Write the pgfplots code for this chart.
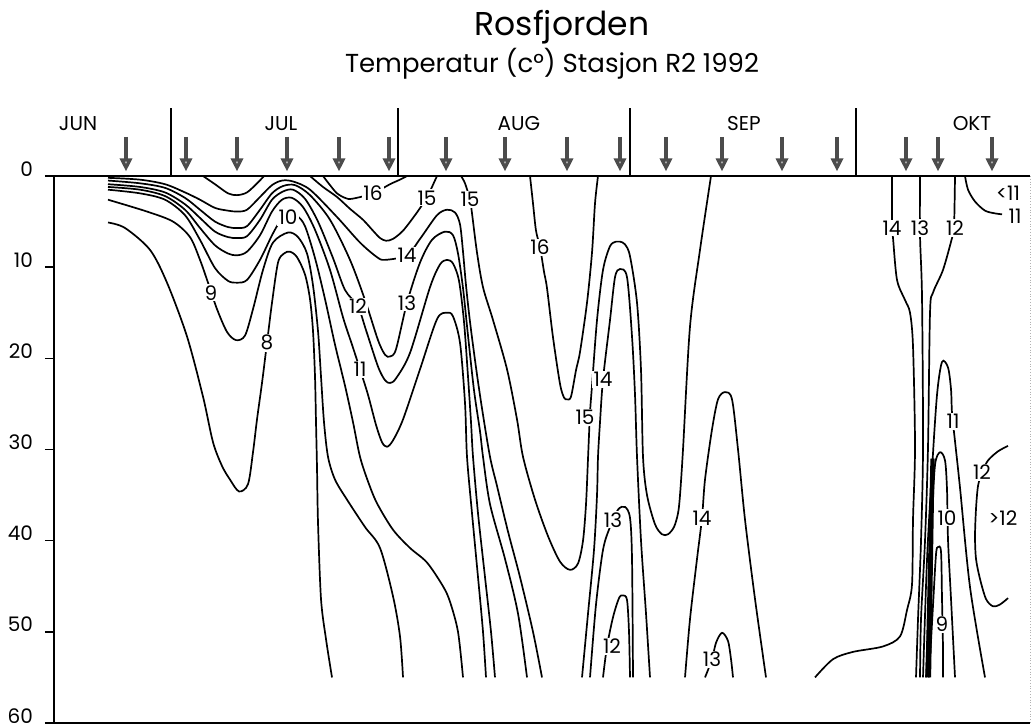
\documentclass[border=0pt]{standalone}
\usepackage{fontspec}
\setmainfont{Poppins}
\usepackage{pgfplots}
\pgfplotsset{compat=1.18}
\usetikzlibrary{arrows.meta}
\tikzset{
  cl/.style={black, line width=0.85pt, mark=none, smooth, tension=0.5},
  lab/.style={fill=white, inner sep=0.6pt, font=\fontsize{10}{12}\selectfont},
}
\begin{document}
\begin{tikzpicture}[x=1pt,y=1pt]
\useasboundingbox (-27,-2) rectangle (488.5,361.5);
\begin{axis}[
  at={(0,0)}, anchor=south west,
  scale only axis, width=488pt, height=273.5pt,
  xmin=54, xmax=1030, ymin=0, ymax=60, y dir=reverse,
  axis line style={draw=none},
  xtick=\empty, ytick={0,10,...,60}, ytick pos=left,
  tick align=outside, major tick length=4.5pt,
  tick style={black, line width=0.8pt},
  yticklabel style={font=\fontsize{10}{12}\selectfont, anchor=base east, xshift=-2.5pt},
  /pgf/number format/assume math mode=true,
  clip=false,
]
% frame
\draw[line width=1pt] (axis cs:54,0) -- (axis cs:1030,0);
\draw[line width=1pt] (axis cs:54,0) -- (axis cs:54,60);
\draw[line width=1.1pt] (axis cs:54,60) -- (axis cs:1030,60);
\draw[line width=0.4pt, gray!60, densely dotted] (axis cs:1030,0) -- (axis cs:1030,60);
% month separators
\addplot[black, line width=0.8pt, mark=none] coordinates {(171,-7.45) (171,0)};
\addplot[black, line width=0.8pt, mark=none] coordinates {(398,-7.45) (398,0)};
\addplot[black, line width=0.8pt, mark=none] coordinates {(630,-7.45) (630,0)};
\addplot[black, line width=0.8pt, mark=none] coordinates {(856,-7.45) (856,0)};
% sampling arrows
\addplot[draw=black!70, line width=1.6pt, mark=none,
  -{Triangle[width=6pt,length=6.5pt,fill=gray!45]},
  quiver={u=0, v=3.8}] coordinates {
  (126,-4.3) (186,-4.3) (237,-4.3) (287,-4.3) (339,-4.3) (389,-4.3)
  (446,-4.3) (505,-4.3) (567,-4.3) (620,-4.3) (666,-4.3) (722,-4.3)
  (782,-4.3) (837,-4.3) (906,-4.3) (938,-4.3) (992,-4.3)};
% contours: 8
\addplot[cl] coordinates {(108,5.1) (125,5.7) (150,8.1) (167,11.7) (187,17.6) (203,24.2) (213,29.2) (222,31.8) (230,33.3) (239,34.6) (248,33.8) (253,30.3) (257,26.7) (262,22.7) (267,18.3) (272,13.9) (278,9.5) (284,8.5) (290,8.3) (297,8.9) (305,10.8) (310,13.5) (313,17) (315,22) (316,27) (317,32) (318,38) (321,46.4) (326,50.8) (332,55)};
% 9
\addplot[cl] coordinates {(108,2.6) (147,3.9) (173,5.0) (190,6.7) (200,9.2) (208,11.7) (217,14.6) (227,17.1) (236,18.0) (245,17.5) (253,14.6) (263,10.3) (273,7.3) (288,6.2) (298,6.7) (307,8.5) (313,12) (318,17) (321,22) (324,27) (328,30.8) (335,33.3) (347,35.5) (365,38.5) (380,40.8) (393,46.1) (400,50.5) (403,55)};
% 10
\addplot[cl] coordinates {(108,1.5) (140,1.9) (165,2.6) (185,4.3) (200,7.0) (215,10.1) (228,11.5) (237,11.7) (247,11.4) (260,9.2) (272,6.5) (280,5.0) (288,4.4) (297,4.4) (305,5.5) (315,9) (325,13.5) (335,18.5) (345,23) (353,27) (360,30.8) (368,33.5) (377,35.9) (393,38.8) (410,40.8) (427,42.4) (443,45) (450,46.7) (458,50) (463,55)};
% 11
\addplot[cl] coordinates {(108,1.2) (140,1.5) (165,2.2) (185,3.7) (200,5.7) (215,7.6) (228,8.5) (237,8.7) (247,8.3) (260,6.5) (272,3.9) (282,2.6) (292,2.4) (303,3.4) (315,5.9) (330,10.3) (343,15.5) (352,18.5) (360,21.2) (368,24) (376,27.3) (382,29.2) (387,29.7) (393,29) (403,26.7) (420,21.2) (437,15.7) (447,15.0) (453,15.4) (460,18.3) (465,24.9) (467,30.8) (472,37) (478,44) (483,50) (486,55)};
% 12
\addplot[cl] coordinates {(108,0.9) (140,1.2) (165,1.8) (185,3.1) (200,4.6) (215,6.1) (228,6.7) (237,6.8) (247,6.6) (260,4.8) (272,2.6) (283,1.7) (293,1.5) (305,2.5) (318,5.0) (333,9.0) (345,12.5) (358,14.3) (366,16.9) (378,20.9) (385,22.4) (390,22.7) (396,22.2) (410,19.4) (430,12.2) (440,9.7) (447,9.2) (453,9.6) (459,11.5) (464,16) (468,22) (471,27) (473,30.8) (478,37) (485,44) (491,50) (495,55)};
% 13
\addplot[cl] coordinates {(108,0.5) (140,0.8) (165,1.3) (185,2.4) (200,3.7) (215,5.0) (228,5.6) (237,5.7) (247,5.5) (260,3.7) (272,1.9) (283,1.1) (295,1.0) (310,2.1) (330,4.8) (350,9.2) (365,13.6) (378,18.0) (385,19.6) (390,19.8) (396,19) (407,13.9) (420,9.5) (432,7.0) (445,6.1) (453,6.5) (458,8.5) (463,12.3) (468,17.5) (474,23.5) (480,28) (483,30.8) (490,36) (505,42) (518,48) (527,55)};
% 14
\addplot[cl] coordinates {(108,0.2) (140,0.4) (165,0.9) (185,1.8) (200,2.6) (215,3.5) (228,3.8) (237,3.9) (247,3.7) (260,2.3) (272,1.0) (282,0.5) (293,0.6) (310,1.5) (337,4.5) (360,7.3) (377,8.9) (385,9.2) (407,8.7) (420,6.9) (437,4.3) (447,3.7) (455,4.0) (460,5.3) (463,8.3) (466,12) (470,16) (476,21) (482,25.5) (490,30.8) (497,34) (508,39) (520,44) (533,50) (542,55)};
% 15 (V at early July)
\addplot[cl] coordinates {(203,0) (215,0.9) (228,1.9) (237,2.1) (247,1.8) (258,0.7) (264,0)};
% 15 late July
\addplot[cl] coordinates {(310,0) (323,1.2) (337,2.3) (350,3.6) (363,4.8) (373,6.0) (380,6.8) (386,7.1) (393,6.9) (403,6.0) (415,4.3) (422,3.2) (427,2.4) (432,1.2) (437,0)};
% 16 late July
\addplot[cl] coordinates {(323,0) (330,1.0) (337,1.9) (345,2.4) (352,2.5) (373,1.9) (390,0.9) (400,0.4) (407,0)};
% 15 long W
\addplot[cl] coordinates {(461,0) (465,0.8) (470,2.6) (472,4.1) (477,8.4) (483,12.2) (493,15.8) (507,21.2) (517,26.7) (523,30.8) (535,35.5) (548,39.5) (560,42.3) (570,43.2) (578,42.5) (583,40) (586,36) (588,31) (590,26) (592,23) (597,15.8) (603,10.3) (610,7.7) (616,7.2) (620,7.2) (625,7.5) (630,8.8) (637,13.9) (641,21.3) (643,30.8) (647,35) (655,38.2) (662,39.3) (668,39.3) (674,38.5) (678,37) (680,35) (683,30.0) (690,16.5) (700,8.1) (711,0)};
% 16 V August
\addplot[cl] coordinates {(530,0) (533,3) (536,6) (540,7.8) (544,10.5) (547,12.3) (553,17.7) (560,22.8) (564,24.3) (567,24.5) (571,24.2) (576,21.3) (580,19.3) (587,13.9) (592,8.4) (595,3.0) (598,0)};
% dome at 620
\addplot[cl] coordinates {(582,55) (588,48) (594,41) (597,35) (598,30.8) (600,27) (603,22.3) (610,15.8) (615,11.1) (620,10.2) (627,11.1) (632,17.6) (635,24) (637,30.8) (641,40) (646,48) (650,55)};
\addplot[cl] coordinates {(590,55) (596,47) (603,41) (610,38.5) (618,36.6) (625,36.3) (630,37.5) (632,42) (633,55)};
\addplot[cl] coordinates {(603,55) (607,51.6) (613,48.4) (619,46.3) (623,46.0) (627,46.5) (629,50) (630,55)};
% dome at 725
\addplot[cl] coordinates {(685,55) (690,48.6) (697,42) (702,37.5) (705,33.3) (712,27.8) (718,24.5) (725,23.7) (732,24.5) (738,30.0) (745,37.7) (755,46.4) (766,55)};
\addplot[cl] coordinates {(705,55) (712,53) (716,51.2) (722,50.1) (728,51) (731,53) (733,55)};
% October
\addplot[cl] coordinates {(892,0) (892,5.7) (893,6.8) (897,11.4) (905,13.6) (910,15.0) (913,18.7) (915,29.7) (913,37.7) (912,44.8) (907,47.6) (900,50.5) (883,51.6) (853,52.2) (833,53.0) (815,55)};
\addplot[cl] coordinates {(920,0) (920,6.5) (922,13.3) (923,29.7) (921,40) (918,48.6) (916,55)};
\addplot[cl] coordinates {(955,0) (954,5.7) (952,6.8) (943,10.3) (933,12.8) (930,15.0) (928,29.7) (925,40) (921,48.6) (920,55)};
\addplot[cl] coordinates {(965,0) (968,1.5) (975,2.8) (985,3.8) (995,4.1) (1002,4.2)};
\addplot[cl] coordinates {(923,55) (927,42.1) (932,32.2) (937,24) (942,20.4) (948,21) (951,23.4) (952,26) (955,29.1) (960,34.2) (970,45.1) (985,55)};
\addplot[cl] coordinates {(926,55) (929,46.4) (932,37.7) (935,31.7) (940,30.3) (945,31.2) (947,34.4) (948,39.9) (951,46.4) (955,55)};
\addplot[cl] coordinates {(929,55) (933,47.1) (936,41.5) (938,40.7) (941,41.2) (942,46.4) (943,51.9) (943,55)};
\addplot[black, line width=1.6pt, mark=none] coordinates {(932,31) (927,55)};
\addplot[black, line width=1.6pt, mark=none] coordinates {(933,31) (929.5,55)};
\addplot[cl] coordinates {(1008,29.6) (998,30.2) (988,31.2) (982,32.5) (978,34) (976,36.5) (975,39.5) (976,42) (980,44.2) (986,46.4) (993,47.2) (1000,47) (1008,46.3)};
% contour labels
\node[lab] at (axis cs:373,1.9) {16};
\node[lab] at (axis cs:427,2.4) {15};
\node[lab] at (axis cs:470,2.6) {15};
\node[lab] at (axis cs:540,7.8) {16};
\node[lab] at (axis cs:288,4.5) {10};
\node[lab] at (axis cs:407,8.7) {14};
\node[lab] at (axis cs:211,12.8) {9};
\node[lab] at (axis cs:358,14.3) {12};
\node[lab] at (axis cs:407,13.9) {13};
\node[lab] at (axis cs:267,18.3) {8};
\node[lab] at (axis cs:360,21.2) {11};
\node[lab] at (axis cs:603,22.3) {14};
\node[lab] at (axis cs:585,26.5) {15};
\node[lab] at (axis cs:613,37.7) {13};
\node[lab] at (axis cs:702,37.5) {14};
\node[lab] at (axis cs:612,51.6) {12};
\node[lab] at (axis cs:712,53.0) {13};
\node[lab] at (axis cs:892,5.7) {14};
\node[lab] at (axis cs:920,5.7) {13};
\node[lab] at (axis cs:955,5.7) {12};
\node[lab] at (axis cs:1008,1.9) {<11};
\node[lab] at (axis cs:1015,4.4) {11};
\node[lab] at (axis cs:953,26.9) {11};
\node[lab] at (axis cs:982,32.5) {12};
\node[lab] at (axis cs:947,37.5) {10};
\node[lab] at (axis cs:1003,37.5) {>12};
\node[lab] at (axis cs:942,49.2) {9};
% month names
\node[font=\fontsize{10}{12}\selectfont] at (axis cs:78,-5.8) {JUN};
\node[font=\fontsize{10}{12}\selectfont] at (axis cs:281,-5.8) {JUL};
\node[font=\fontsize{10}{12}\selectfont] at (axis cs:519,-5.8) {AUG};
\node[font=\fontsize{10}{12}\selectfont] at (axis cs:744,-5.8) {SEP};
\node[font=\fontsize{10}{12}\selectfont] at (axis cs:972,-5.8) {OKT};
% titles
\node[font=\fontsize{16.5}{18}\selectfont] at (axis cs:562,-16.35) {Rosfjorden};
\node[font=\fontsize{13}{15}\selectfont] at (axis cs:552,-12.35) {Temperatur (c°) Stasjon R2 1992};
\end{axis}
\end{tikzpicture}
\end{document}
